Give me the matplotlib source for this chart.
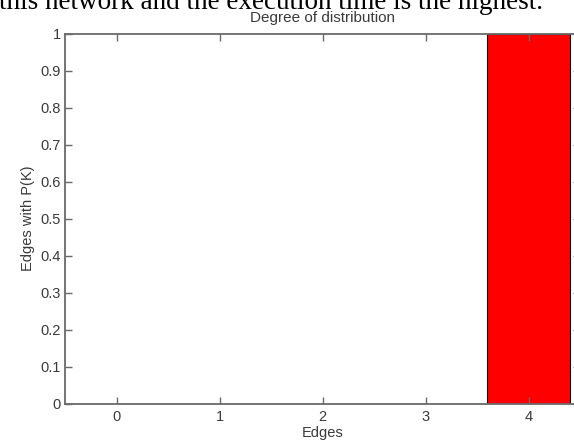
import matplotlib
matplotlib.use("Agg")
import matplotlib.pyplot as plt

# data
edges = [0, 1, 2, 3, 4]
p_k = [0, 0, 0, 0, 1]
x_ticks = [0, 1, 2, 3, 4]
y_ticks = [0, 0.1, 0.2, 0.3, 0.4, 0.5, 0.6, 0.7, 0.8, 0.9, 1]
y_tick_labels = ["0", "0.1", "0.2", "0.3", "0.4", "0.5", "0.6", "0.7", "0.8", "0.9", "1"]

W, H = 574, 441
fig = plt.figure(figsize=(W / 100, H / 100), dpi=100)

# axes placed in pixels (right edge runs past the crop of the picture)
left, right, top, bottom = 65, 580, 33.5, 403.5
ax = fig.add_axes([left / W, (H - bottom) / H, (right - left) / W, (bottom - top) / H])

ax.bar(edges, p_k, width=0.8, color="#ff0000", edgecolor="black", linewidth=0.8)

ax.set_xlim(-0.5, 4.5)
ax.set_ylim(0, 1)
ax.set_xticks(x_ticks)
ax.set_yticks(y_ticks)
ax.set_yticklabels(y_tick_labels)

text_col = "#3a3a3a"
spine_col = "#6a6a6a"
fs = 10.5
for s in ax.spines.values():
    s.set_color(spine_col)
    s.set_linewidth(1.3)
ax.tick_params(direction="in", length=5, width=1.0, color=spine_col,
               labelsize=fs, labelcolor=text_col, top=True, right=True)
ax.tick_params(axis="y", pad=3)
ax.tick_params(axis="x", pad=5)
for lbl in ax.get_xticklabels() + ax.get_yticklabels():
    lbl.set_family("Liberation Sans")

ax.set_title("Degree of distribution", fontsize=11, color=text_col,
             family="Liberation Sans", pad=8.5)
ax.set_xlabel("Edges", fontsize=fs, color=text_col, family="Liberation Sans", labelpad=1)
ax.set_ylabel("Edges with P(K)", fontsize=fs, color=text_col, family="Liberation Sans", labelpad=4)

# cut-off line of document text above the chart
fig.text(543 / W, 1 - 9 / H, "this network and the execution time is the highest.",
         ha="right", va="baseline", fontsize=19.5, family="Liberation Serif", color="black")

fig.savefig("out.png", dpi=100, facecolor="white")
